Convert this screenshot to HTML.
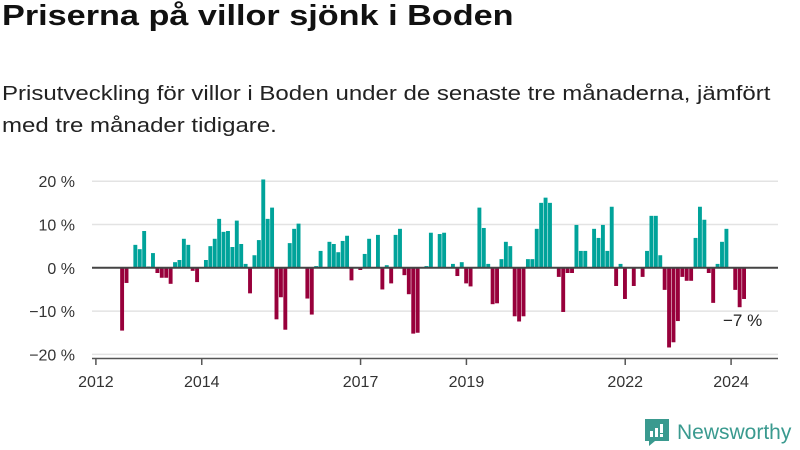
<!DOCTYPE html>
<html><head><meta charset="utf-8">
<style>
body{margin:0;width:800px;height:450px;background:#fff;font-family:"Liberation Sans","DejaVu Sans",sans-serif;color:#111;position:relative;overflow:hidden}
#title{position:absolute;left:2px;top:0;font-size:29px;font-weight:bold;margin:0;transform-origin:0 0;transform:scaleX(1.18);white-space:nowrap}
#sub{position:absolute;left:2px;top:78px;font-size:20px;line-height:32px;width:656px;color:#222;transform-origin:0 0;transform:scaleX(1.2)}
svg{position:absolute;left:0;top:0}
</style></head><body>
<h1 id="title">Priserna på villor sjönk i Boden</h1>
<div id="sub">Prisutveckling för villor i Boden under de senaste tre månaderna, jämfört med tre månader tidigare.</div>
<svg id="chart" width="800" height="450"></svg>
<script>
const startMonth = 5; // June 2012, months since Jan 2012
const values = [-14.5,-3.5,0,5.3,4.3,8.5,0.3,3.4,-1.2,-2.3,-2.3,-3.7,1.3,1.8,6.7,5.3,-0.7,-3.3,0,1.8,5.0,6.7,11.3,8.3,8.5,4.8,10.9,5.5,0.9,-5.9,2.9,6.4,20.4,11.3,13.9,-11.9,-6.8,-14.3,5.7,9.0,10.2,0,-7.1,-10.8,0.4,3.9,0,6.0,5.5,3.6,6.2,7.4,-2.9,0,-0.5,3.2,6.7,0,7.6,-5.0,0.6,-3.6,7.6,9.0,-1.7,-6.1,-15.2,-15.0,0,0.4,8.1,0,7.8,8.1,0,0.9,-1.9,1.3,-3.6,-4.3,0,13.9,9.2,0.9,-8.4,-8.2,2.0,6.0,5.0,-11.2,-12.4,-11.2,2.0,2.0,9.0,15.0,16.2,15.0,0,-2.1,-10.2,-1.2,-1.2,9.9,3.9,3.9,0,9.0,6.9,9.9,3.9,14.1,-4.2,0.9,-7.2,0,-4.2,0,-2.1,3.9,12.0,12.0,2.9,-5.1,-18.4,-17.2,-12.3,-2.1,-3.0,-3.0,6.9,14.1,11.1,-1.2,-8.1,0.9,6.0,9.0,0,-5.1,-9.1,-7.2];
const yTicks = [-20,-10,0,10,20];
const yTickLabels = ["−20 %","−10 %","0 %","10 %","20 %"];
const xTickYears = [2012,2014,2017,2019,2022,2024];
const NS="http://www.w3.org/2000/svg";
const svg=document.getElementById('chart');
const x = m => 97.9 + 4.411*m;
const y = v => 267.8 - 4.33*v;
function mk(t,a){const e=document.createElementNS(NS,t);for(const k in a)e.setAttribute(k,a[k]);svg.appendChild(e);return e;}
yTicks.forEach((t,i)=>{
  if(t!==0){const g=mk('line',{x1:92,x2:778,y1:y(t),y2:y(t),stroke:'#e3e3e3','stroke-width':1.5});
  
  }
  const l=mk('text',{x:75,y:y(t)+6,'text-anchor':'end','font-size':16,fill:'#333'});
  l.textContent=yTickLabels[i];
  
  
});
values.forEach((v,i)=>{
  if(v===0)return;
  const m=startMonth+i;
  const r=mk('rect',{x:x(m)+0.2,width:3.9,y:Math.min(y(v),y(0)),height:Math.abs(y(v)-y(0)),fill:v>0?'#00a39a':'#98003b'});
  
  
});
const z=mk('line',{x1:92,x2:778,y1:y(0),y2:y(0),stroke:'#444','stroke-width':2});


const ax=mk('line',{x1:92,x2:778,y1:358.5,y2:358.5,stroke:'#555','stroke-width':1.5});


xTickYears.forEach(yr=>{
  const xx=x((yr-2012)*12)-2;
  const t=mk('line',{x1:xx,x2:xx,y1:358,y2:365,stroke:'#555','stroke-width':1.5});
  
  
  const l=mk('text',{x:xx,y:387,'text-anchor':'middle','font-size':16,fill:'#333'});
  l.textContent=yr;
  
  
});
const lastVal=values[values.length-1];
const lab=mk('text',{x:723,y:y(lastVal)+27,'font-size':17,fill:'#222'});
lab.textContent='−'+Math.abs(Math.round(lastVal))+' %';


</script>
<div style="position:absolute;left:645px;top:419px;display:flex;align-items:center;color:#3a9a8f;font-size:21px">
<svg width="24" height="27" viewBox="0 0 24 27" style="position:static;margin-right:8px"><path d="M0 0H24V22H10L4 27V22H0Z" fill="#3a9a8f"/><rect x="5" y="12" width="3" height="6" fill="#fff"/><rect x="10" y="9" width="3" height="9" fill="#fff"/><rect x="15" y="5" width="3" height="9" fill="#fff"/><rect x="15" y="15" width="3" height="3" fill="#fff"/></svg>
<span>Newsworthy</span></div>
</body></html>
